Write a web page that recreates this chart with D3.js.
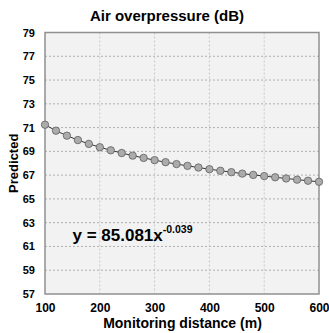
<!DOCTYPE html>
<html>
<head>
<meta charset="utf-8">
<script src="https://cdn.jsdelivr.net/npm/d3@7"></script>
<style>
  body { margin: 0; background: #fff; }
  text { font-family: "Liberation Sans", Arial, sans-serif; font-weight: bold; fill: #000; }
</style>
</head>
<body>
<div id="chart"></div>
<script>
// data
const distances = [100, 120, 140, 160, 180, 200, 220, 240, 260, 280, 300, 320, 340,
  360, 380, 400, 420, 440, 460, 480, 500, 520, 540, 560, 580, 600]
const predicted = [71.24, 70.74, 70.32, 69.95, 69.63, 69.35, 69.09, 68.86, 68.64, 68.45,
  68.26, 68.09, 67.93, 67.78, 67.64, 67.50, 67.37, 67.25, 67.13, 67.02, 66.92, 66.82,
  66.72, 66.62, 66.53, 66.44]
const xTicks = [100, 200, 300, 400, 500, 600]
const yTicks = [57, 59, 61, 63, 65, 67, 69, 71, 73, 75, 77, 79]

const width = 329
const height = 333
const margin = {top: 32.5, right: 10, bottom: 39, left: 45}

const svg = d3.select('#chart').append('svg')
  .attr('width', width)
  .attr('height', height)

const x = d3.scaleLinear().domain([100, 600]).range([margin.left, width - margin.right])
const y = d3.scaleLinear().domain([57, 79]).range([height - margin.bottom, margin.top])

// plot background
svg.append('rect')
  .attr('x', x(100)).attr('y', y(79))
  .attr('width', x(600) - x(100)).attr('height', y(57) - y(79))
  .style('fill', '#f2f2f2')

// grid
svg.append('g').selectAll('line.h')
  .data(yTicks.slice(1, -1))
  .enter().append('line')
  .attr('x1', x(100)).attr('x2', x(600))
  .attr('y1', d => y(d)).attr('y2', d => y(d))
  .style('stroke', '#b0b0b0').style('stroke-width', 1).style('stroke-dasharray', '2,2')

svg.append('g').selectAll('line.v')
  .data(xTicks.slice(1, -1))
  .enter().append('line')
  .attr('x1', d => x(d)).attr('x2', d => x(d))
  .attr('y1', y(79)).attr('y2', y(57))
  .style('stroke', '#c8c8c8').style('stroke-width', 1).style('stroke-dasharray', '2,2')

// frame
svg.append('rect')
  .attr('x', x(100)).attr('y', y(79))
  .attr('width', x(600) - x(100)).attr('height', y(57) - y(79))
  .style('fill', 'none').style('stroke', '#909090').style('stroke-width', 1.5)

// axes
const xAxis = svg.append('g')
  .attr('transform', `translate(0,${y(57)})`)
  .call(d3.axisBottom(x).tickValues(xTicks).tickSize(0).tickPadding(9))
xAxis.select('.domain').remove()
xAxis.selectAll('text').style('font-size', '12px')

const yAxis = svg.append('g')
  .attr('transform', `translate(${x(100)},0)`)
  .call(d3.axisLeft(y).tickValues(yTicks).tickSize(0).tickPadding(10))
yAxis.select('.domain').remove()
yAxis.selectAll('text').style('font-size', '11px')

// series
const pts = distances.map((d, i) => ({d: d, v: predicted[i]}))

svg.append('path')
  .datum(pts)
  .attr('d', d3.line().x(p => x(p.d)).y(p => y(p.v)))
  .style('fill', 'none').style('stroke', '#333').style('stroke-width', 1)

svg.append('g').selectAll('circle')
  .data(pts)
  .enter().append('circle')
  .attr('cx', p => x(p.d)).attr('cy', p => y(p.v))
  .attr('r', 3.7)
  .style('fill', '#ababab').style('stroke', '#606060').style('stroke-width', 0.8)

// titles
svg.append('text')
  .attr('x', 167).attr('y', 21)
  .attr('text-anchor', 'middle')
  .style('font-size', '15px')
  .text('Air overpressure (dB)')

svg.append('text')
  .attr('x', 182.5).attr('y', 328)
  .attr('text-anchor', 'middle')
  .style('font-size', '14px')
  .text('Monitoring distance (m)')

svg.append('text')
  .attr('transform', `translate(18,${y(68)}) rotate(-90)`)
  .attr('text-anchor', 'middle')
  .style('font-size', '13px')
  .text('Predicted')

// equation
const eq = svg.append('text')
  .attr('x', 72.5).attr('y', 240.5)
  .style('font-size', '17px')
eq.append('tspan').text('y = 85.081x')
eq.append('tspan')
  .attr('dy', -8)
  .style('font-size', '10.5px')
  .text('-0.039')
</script>
</body>
</html>
